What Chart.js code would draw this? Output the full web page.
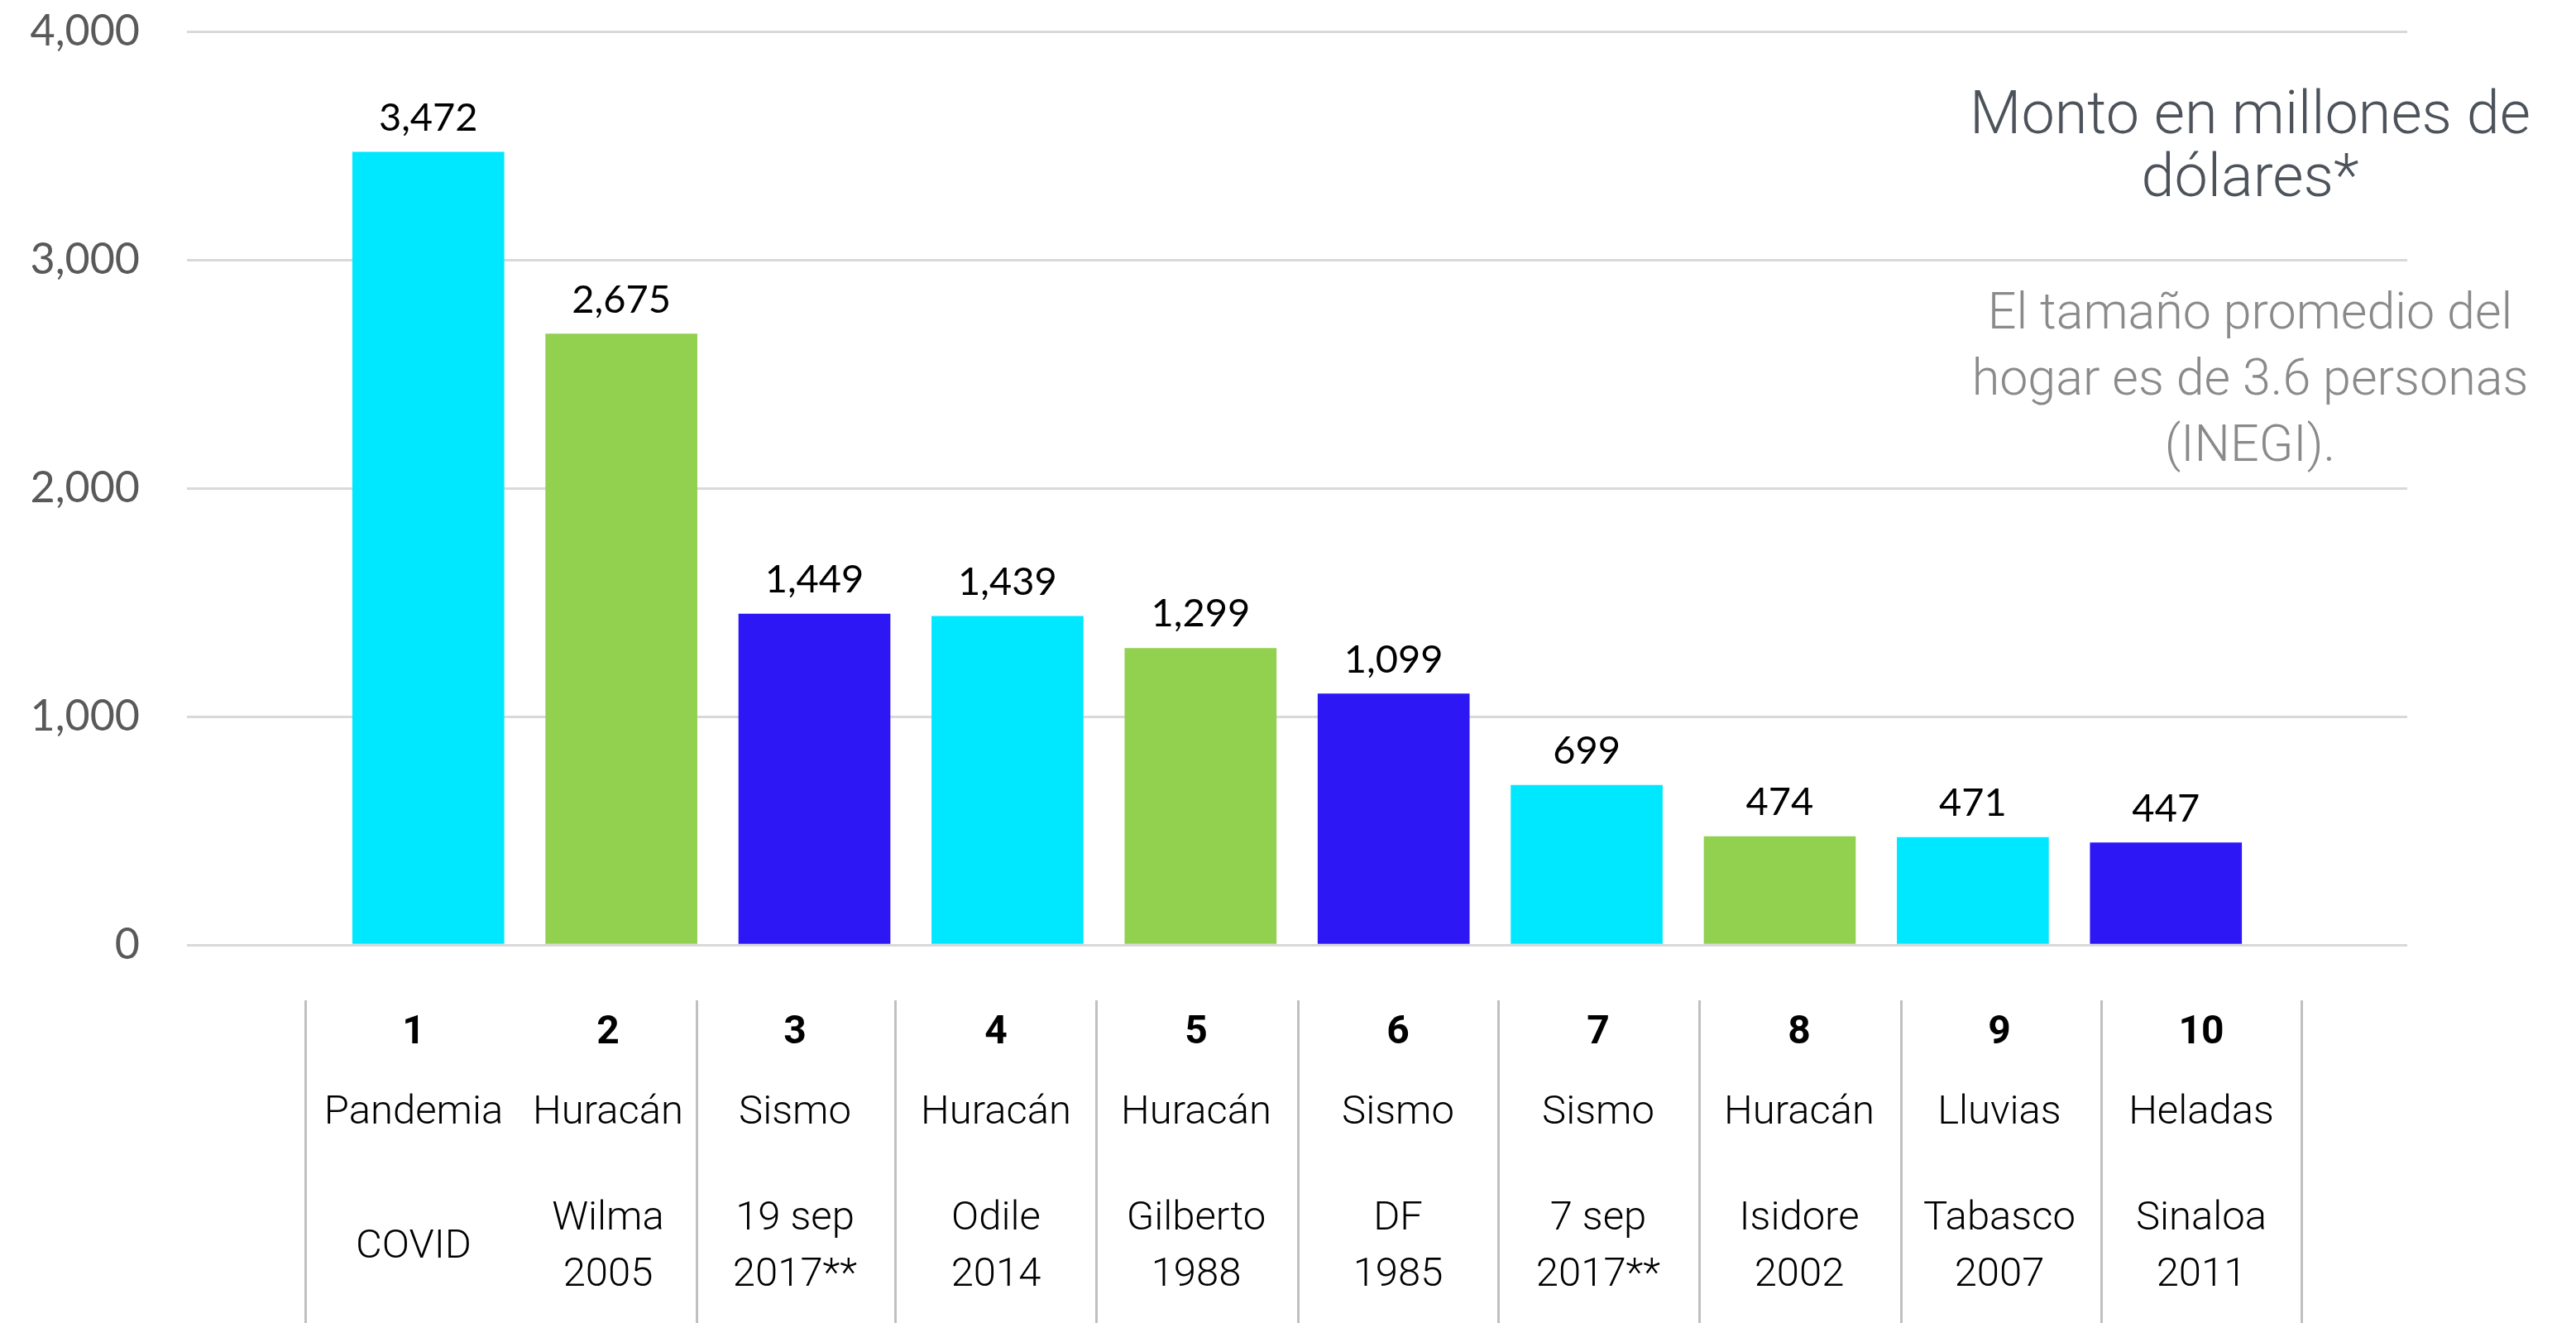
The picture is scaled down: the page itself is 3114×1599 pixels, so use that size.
<!DOCTYPE html>
<html>
<head>
<meta charset="utf-8">
<script src="https://cdn.jsdelivr.net/npm/chart.js@4.4.1/dist/chart.umd.min.js"></script>
<style>
  html, body { margin: 0; padding: 0; background: #fff; }
  #wrap { position: relative; width: 3114px; height: 1599px; overflow: hidden; }
  #myChart { position: absolute; left: 0; top: 0; }
  .cond { font-family: Roboto, 'Open Sans', sans-serif; font-weight: 300; }
  .note { position: absolute; text-align: center; white-space: nowrap; }
  #title { left: 2320px; width: 800px; top: 99px; font-size: 72px; line-height: 76px; color: #4d535b; }
  #subtitle { left: 2320px; width: 800px; top: 336px; font-size: 61px; line-height: 80px; color: #8a8a8a; }
  .vline { position: absolute; top: 1209px; width: 3px; height: 390px; background: #c0c0c0; }
  .cell { position: absolute; width: 240px; text-align: center; color: #000; white-space: nowrap; }
  .rank { top: 1215px; font-size: 48px; line-height: 60px; font-weight: 700; }
  .kind { top: 1312px; font-size: 49px; line-height: 60px; }
  .name { top: 1436px; height: 136px; font-size: 49px; line-height: 68px;
          display: flex; flex-direction: column; justify-content: center; }
</style>
</head>
<body>
<div id="wrap">
  <canvas id="myChart" width="3114" height="1599"></canvas>
  <div id="title" class="note cond">Monto en millones de<br>dólares*</div>
  <div id="subtitle" class="note cond">El tamaño promedio del<br>hogar es de 3.6 personas<br>(INEGI).</div>
  <div id="table"></div>
</div>
<script>
// data
const ranks      = ['1', '2', '3', '4', '5', '6', '7', '8', '9', '10'];
const eventTypes = ['Pandemia', 'Huracán', 'Sismo', 'Huracán', 'Huracán', 'Sismo', 'Sismo', 'Huracán', 'Lluvias', 'Heladas'];
const eventNames = ['COVID', 'Wilma', '19 sep', 'Odile', 'Gilberto', 'DF', '7 sep', 'Isidore', 'Tabasco', 'Sinaloa'];
const eventYears = ['', '2005', '2017**', '2014', '1988', '1985', '2017**', '2002', '2007', '2011'];
const amounts    = [3472, 2675, 1449, 1439, 1299, 1099, 699, 474, 471, 447];
const yTicks     = [0, 1000, 2000, 3000, 4000];

// styles
const CYAN = '#00E8FF', GREEN = '#92D050', BLUE = '#2D17F5';
const barColors = [CYAN, GREEN, BLUE, CYAN, GREEN, BLUE, CYAN, GREEN, CYAN, BLUE];

// table layout (pixels)
const lineX = [369, 842, 1082, 1325, 1569, 1811, 2054, 2298, 2540, 2782];
const textX = [500, 735, 961, 1204, 1446, 1690, 1932, 2175, 2417, 2661];

const ctx = document.getElementById('myChart');

const valueLabels = {
  id: 'valueLabels',
  afterDatasetsDraw(chart) {
    const c = chart.ctx;
    const meta = chart.getDatasetMeta(0);
    c.save();
    c.font = '47px Lato';
    c.fillStyle = '#000';
    c.textAlign = 'center';
    c.textBaseline = 'alphabetic';
    meta.data.forEach((bar, i) => {
      c.fillText(amounts[i].toLocaleString('en-US'), bar.x, bar.y - 26);
    });
    c.restore();
  }
};

const showChart = () => {
  new Chart(ctx, {
    type: 'bar',
    data: {
      datasets: [{
        label: 'Monto',
        data: amounts.map((v, i) => ({ x: i + 1, y: v })),
        backgroundColor: barColors,
        borderWidth: 0,
        barThickness: 183
      }]
    },
    options: {
      responsive: false,
      animation: false,
      layout: { padding: { left: 0, right: 204, top: 38, bottom: 457 } },
      plugins: { legend: { display: false }, tooltip: { enabled: false } },
      scales: {
        x: {
          type: 'linear',
          display: false,
          offset: false,
          min: -0.25,
          max: 11.25,
          afterBuildTicks: (s) => { s.ticks = ranks.map((r, i) => ({ value: i + 1 })); }
        },
        y: {
          min: yTicks[0],
          max: yTicks[yTicks.length - 1],
          afterBuildTicks: (s) => { s.ticks = yTicks.map(v => ({ value: v })); },
          afterFit: (s) => { s.width = 226; s.paddingTop = 0; s.paddingBottom = 0; },
          border: { display: false },
          grid: { color: '#d9d9d9', lineWidth: 3, drawTicks: false },
          ticks: {
            padding: 57,
            color: '#595959',
            font: { family: 'Lato', size: 52 },
            callback: (v) => v.toLocaleString('en-US')
          }
        }
      }
    },
    plugins: [valueLabels]
  });
};

const buildTable = () => {
  let html = '';
  lineX.forEach(x => { html += `<div class="vline" style="left:${x - 1}px"></div>`; });
  ranks.forEach((r, i) => {
    const left = textX[i] - 120;
    const nameHtml = eventYears[i] ? `${eventNames[i]}<br>${eventYears[i]}` : eventNames[i];
    html += `
      <div class="cell cond rank" style="left:${left}px">${r}</div>
      <div class="cell cond kind" style="left:${left}px">${eventTypes[i]}</div>
      <div class="cell cond name" style="left:${left}px"><div>${nameHtml}</div></div>`;
  });
  document.getElementById('table').innerHTML = html;
};

buildTable();
showChart();
</script>
</body>
</html>
